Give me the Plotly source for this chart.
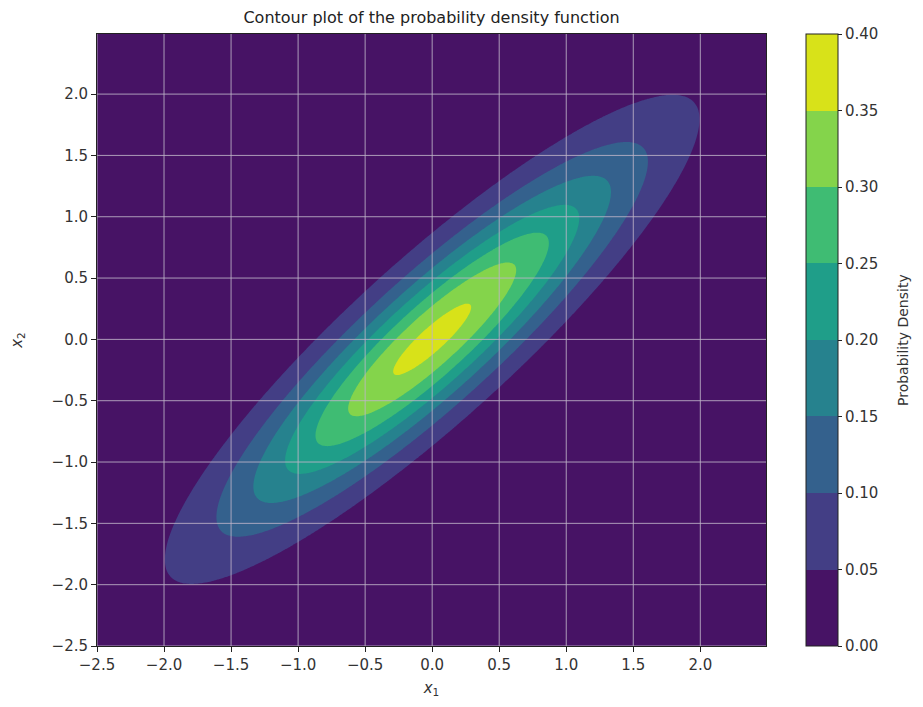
import numpy as np
import plotly.graph_objects as go

# parameters of the 2D normal
mean = [0.0, 0.0]
cov = [[1.0, 0.9], [0.9, 1.0]]

# grid the density is drawn on
x_min, x_max, step = -2.5, 2.5, 0.01

# contour levels and the colours matplotlib gives each band (viridis)
levels = [0.0, 0.05, 0.10, 0.15, 0.20, 0.25, 0.30, 0.35, 0.40]
band_colors = ["#471365", "#433e85", "#34618d", "#26828e",
               "#1f9e89", "#3fbc73", "#84d44b", "#d8e219"]

tick_vals = [-2.5, -2.0, -1.5, -1.0, -0.5, 0.0, 0.5, 1.0, 1.5, 2.0]
cbar_ticks = [0.0, 0.05, 0.10, 0.15, 0.20, 0.25, 0.30, 0.35, 0.40]

# evaluate the pdf on the grid
x1 = np.arange(x_min, x_max, step)
x2 = np.arange(x_min, x_max, step)
X1, X2 = np.meshgrid(x1, x2)
inv = np.linalg.inv(cov)
det = np.linalg.det(cov)
d1 = X1 - mean[0]
d2 = X2 - mean[1]
q = inv[0][0] * d1**2 + 2 * inv[0][1] * d1 * d2 + inv[1][1] * d2**2
Z = np.exp(-0.5 * q) / (2 * np.pi * np.sqrt(det))

# plotly's first slot is the region below the first level, so pad the front
slots = [band_colors[0]] + band_colors
n = len(slots)
fill_scale = []
for i, c in enumerate(slots):
    fill_scale.append([i / n, c])
    fill_scale.append([(i + 1) / n, c])

# step scale for the colorbar: 8 bands over 0..0.4
nb = len(band_colors)
bar_scale = []
for i, c in enumerate(band_colors):
    bar_scale.append([i / nb, c])
    bar_scale.append([(i + 1) / nb, c])

font = "DejaVu Sans"
txt = "#333"

# page has an 8px body margin, so the margins are trimmed by that much
ml, mt, pw, ph = 89, 26, 669, 612
W, H = 923, 707

fig = go.Figure()

fig.add_trace(go.Contour(
    x=x1, y=x2, z=Z,
    autocontour=False,
    contours=dict(start=levels[0], end=levels[-1], size=levels[1] - levels[0],
                  coloring="fill", showlines=False),
    line=dict(width=0),
    colorscale=fill_scale,
    showscale=False,
    hoverinfo="skip",
))

# invisible trace that only carries the colorbar
fig.add_trace(go.Scatter(
    x=[None], y=[None], mode="markers",
    marker=dict(color=[0], cmin=levels[0], cmax=levels[-1], colorscale=bar_scale,
                showscale=True,
                colorbar=dict(
                    x=(798 - ml) / pw, xanchor="left", y=0.5, yanchor="middle",
                    len=1.0, lenmode="fraction", thickness=32,
                    xpad=0, ypad=0,
                    outlinewidth=1, outlinecolor="#222",
                    tickvals=cbar_ticks,
                    ticktext=["%.2f" % v for v in cbar_ticks],
                    ticks="outside", ticklen=4, tickcolor="#222",
                    tickfont=dict(family=font, size=15, color=txt),
                )),
    showlegend=False, hoverinfo="skip",
))

# colorbar label, placed by hand like matplotlib's
fig.add_annotation(text="Probability Density", xref="paper", yref="paper",
                   x=(895 - ml) / pw, y=0.5, xanchor="center", yanchor="middle",
                   textangle=-90, showarrow=False,
                   font=dict(family=font, size=14, color=txt))

# matplotlib draws the grid on top of the filled contours
grid_color = "rgba(190,180,200,0.85)"
for v in tick_vals:
    fig.add_shape(type="line", xref="x", yref="paper", x0=v, x1=v, y0=0, y1=1,
                  line=dict(color=grid_color, width=1), layer="above")
    fig.add_shape(type="line", xref="paper", yref="y", x0=0, x1=1, y0=v, y1=v,
                  line=dict(color=grid_color, width=1), layer="above")

axis_style = dict(
    tickvals=tick_vals,
    ticktext=["%.1f" % v if v >= 0 else "\u2212%.1f" % -v for v in tick_vals],
    ticks="outside", ticklen=5, tickcolor="#222",
    showline=True, linecolor="#222", linewidth=1, mirror=True,
    showgrid=False, zeroline=False,
    tickfont=dict(family=font, size=15, color=txt),
    layer="above traces",
)

fig.update_xaxes(range=[x_min, x_max - step], **axis_style,
                 title=dict(text="<i>x</i><sub>1</sub>", standoff=9,
                            font=dict(family=font, size=15, color=txt)))
fig.update_yaxes(range=[x_min, x_max - step], **axis_style,
                 title=dict(text="<i>x</i><sub>2</sub>", standoff=26,
                            font=dict(family=font, size=15, color=txt)))

fig.update_layout(
    width=W, height=H,
    margin=dict(l=ml, r=W - ml - pw, t=mt, b=H - mt - ph, autoexpand=False),
    paper_bgcolor="white", plot_bgcolor="white",
    title=dict(text="Contour plot of the probability density function",
               x=(ml + pw / 2) / W, xanchor="center", y=1, yanchor="top",
               pad=dict(t=4),
               font=dict(family=font, size=16, color="#222")),
    font=dict(family=font),
)

fig.write_html("out.html")
